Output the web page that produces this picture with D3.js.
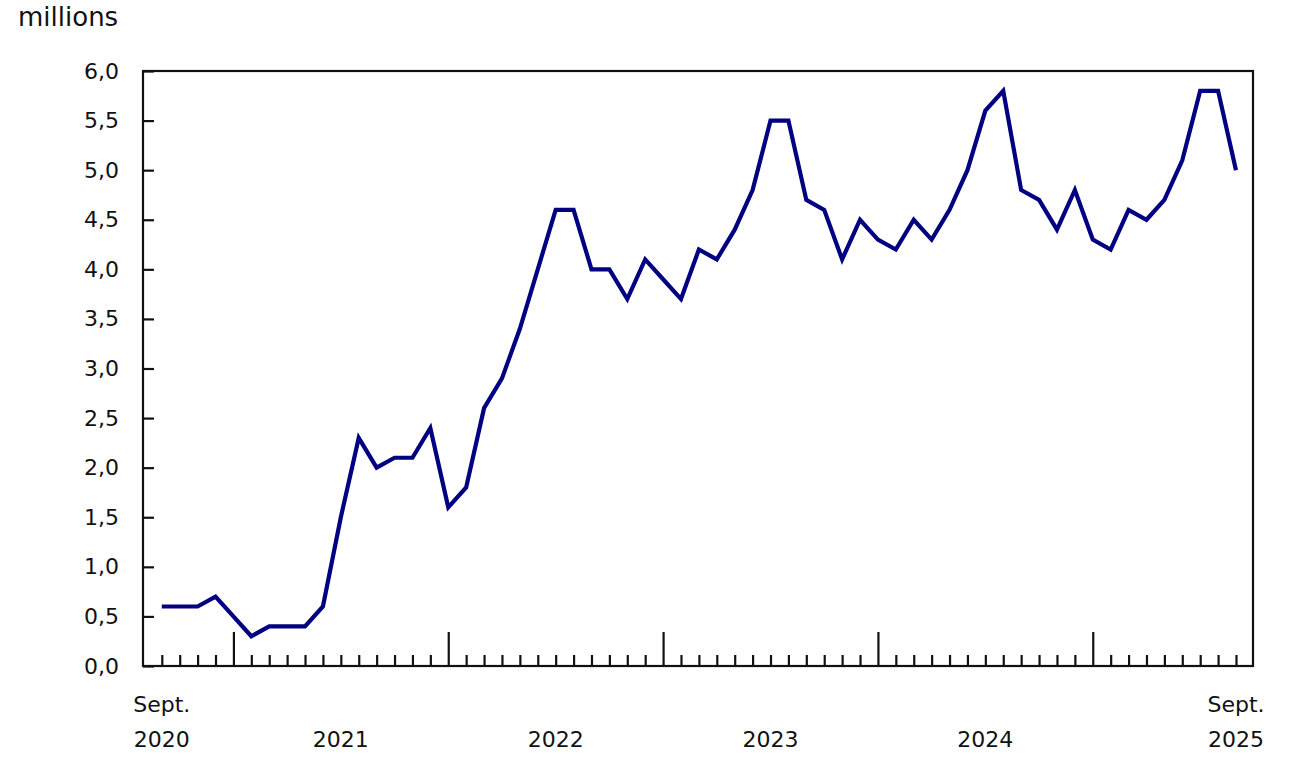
<!DOCTYPE html>
<html>
<head>
<meta charset="utf-8">
<script src="https://cdn.jsdelivr.net/npm/d3@7"></script>
<style>
  body { margin: 0; background: #fff; }
  svg text { font-family: "DejaVu Sans", Verdana, sans-serif; fill: #111; }
</style>
</head>
<body>
<svg id="chart" width="1307" height="762"></svg>
<script>
// monthly values, Sept. 2020 to Sept. 2025 (millions)
const values = [
  0.6, 0.6, 0.6, 0.7,
  0.5, 0.3, 0.4, 0.4, 0.4, 0.6, 1.5, 2.3, 2.0, 2.1, 2.1, 2.4,
  1.6, 1.8, 2.6, 2.9, 3.4, 4.0, 4.6, 4.6, 4.0, 4.0, 3.7, 4.1,
  3.9, 3.7, 4.2, 4.1, 4.4, 4.8, 5.5, 5.5, 4.7, 4.6, 4.1, 4.5,
  4.3, 4.2, 4.5, 4.3, 4.6, 5.0, 5.6, 5.8, 4.8, 4.7, 4.4, 4.8,
  4.3, 4.2, 4.6, 4.5, 4.7, 5.1, 5.8, 5.8, 5.0
];
const yTicks = [0, 0.5, 1, 1.5, 2, 2.5, 3, 3.5, 4, 4.5, 5, 5.5, 6];
// month index of each January (major ticks)
const januaries = [4, 16, 28, 40, 52];
const yearLabels = ["2021", "2022", "2023", "2024"];
const endLabels = [
  { idx: 0, top: "Sept.", bottom: "2020" },
  { idx: 60, top: "Sept.", bottom: "2025" }
];

const svg = d3.select("#chart");
const plotL = 143, plotR = 1253, plotT = 71, plotB = 666;
const fontSize = 22;

const x = d3.scaleLinear().domain([-1.05, 60.95]).range([plotL, plotR]);
const y = d3.scaleLinear().domain([0, 6]).range([plotB, plotT]);

const locale = d3.formatLocale({ decimal: ",", thousands: " ", grouping: [3], currency: ["", "$"] });
const fmt = locale.format(".1f");

// frame
svg.append("rect")
  .attr("x", plotL).attr("y", plotT)
  .attr("width", plotR - plotL).attr("height", plotB - plotT)
  .attr("fill", "none")
  .attr("stroke", "#111")
  .attr("stroke-width", 2.2);

// y axis, ticks pointing inward
const yAxis = svg.append("g")
  .attr("transform", `translate(${plotL},0)`)
  .call(d3.axisLeft(y).tickValues(yTicks).tickSize(-11).tickPadding(24).tickFormat(fmt));
yAxis.select(".domain").remove();
yAxis.selectAll("line").attr("stroke", "#111").attr("stroke-width", 2.2);
yAxis.selectAll("text").attr("font-size", fontSize).attr("fill", "#111")
  .style("font-family", "'DejaVu Sans', Verdana, sans-serif");

// x axis, minor ticks for months, major for January
const months = d3.range(values.length).filter(i => !januaries.includes(i));
const xMinor = svg.append("g")
  .attr("transform", `translate(0,${plotB})`)
  .call(d3.axisBottom(x).tickValues(months).tickSize(-11).tickFormat(""));
const xMajor = svg.append("g")
  .attr("transform", `translate(0,${plotB})`)
  .call(d3.axisBottom(x).tickValues(januaries).tickSize(-34).tickFormat(""));
[xMinor, xMajor].forEach(g => {
  g.select(".domain").remove();
  g.selectAll("line").attr("stroke", "#111").attr("stroke-width", 2.2);
});

// year labels centred between Januaries
svg.append("g").selectAll("text")
  .data(yearLabels)
  .join("text")
  .attr("x", (d, i) => x((januaries[i] + januaries[i + 1]) / 2))
  .attr("y", 747)
  .attr("text-anchor", "middle")
  .attr("font-size", fontSize)
  .text(d => d);

const ends = svg.append("g").selectAll("g")
  .data(endLabels)
  .join("g");
ends.append("text")
  .attr("x", d => x(d.idx)).attr("y", 712)
  .attr("text-anchor", "middle").attr("font-size", fontSize)
  .text(d => d.top);
ends.append("text")
  .attr("x", d => x(d.idx)).attr("y", 747)
  .attr("text-anchor", "middle").attr("font-size", fontSize)
  .text(d => d.bottom);

// unit label
svg.append("text")
  .attr("x", 18).attr("y", 26)
  .attr("font-size", 26)
  .text("millions");

// series line
const line = d3.line()
  .x((d, i) => x(i))
  .y(d => y(d));
svg.append("path")
  .datum(values)
  .attr("d", line)
  .attr("fill", "none")
  .attr("stroke", "#000080")
  .attr("stroke-width", 4.2)
  .attr("stroke-linejoin", "miter");
</script>
</body>
</html>
